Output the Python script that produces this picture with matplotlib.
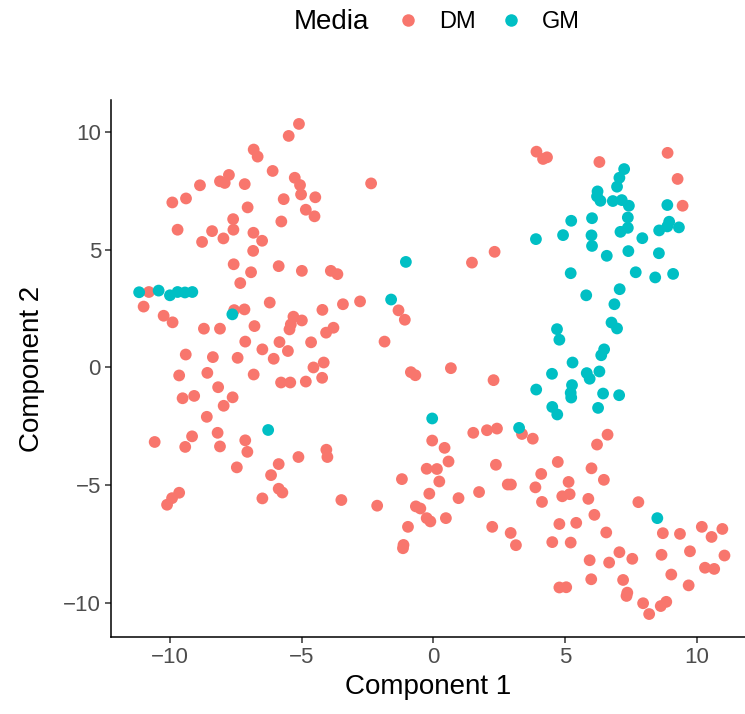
import matplotlib
matplotlib.use("Agg")
import matplotlib.pyplot as plt
from matplotlib.lines import Line2D

plt.rcParams['font.family'] = ['Liberation Sans', 'DejaVu Sans']

# Component 1 / Component 2 coordinates
dm_x = [-5.10, -5.49, -6.82, -6.67, -6.10, -7.76, -8.10, -7.92, -8.86, -7.16,
        -5.26, -5.06, -5.02, -4.48, -5.68, -9.39, -9.91, -7.05, -4.84, -4.51,
        -5.77, -7.60, -7.59, -9.71, -8.40, -8.78, -7.97, -6.83, -6.50, -6.84,
        -7.58, -5.87, -4.99, -6.92, -7.33, -3.89, -3.64, -6.21, -3.43, -2.78,
        -4.21, -10.80, -11.00, -7.56, -7.17,
        -10.24, -9.90, -5.31, -4.99, -5.41, -5.46, -6.79, -8.71, -8.10, -3.79,
        -4.07, -7.14, -5.84, -4.64, -5.52, -6.49, -6.06, -9.40, -8.37, -7.43,
        -4.16, -4.55, -9.65, -8.58, -6.82, -5.78, -5.43, -4.84, -4.22, -8.17,
        -9.52, -9.08, -7.62, -7.96, -8.60, -10.58, -9.16, -9.42, -8.19, -8.10,
        -7.14, -7.06, -5.12, -4.06, -4.02, -5.87, -6.16, -7.46, -5.87, -5.73,
        -6.49, -3.49, -9.65, -9.92, -10.11,
        -2.36, 3.92, 4.17, 4.32, 1.47, 2.33, -1.32, -1.08, -1.85, -0.85,
        -0.68, 0.67, 2.29, 1.52, 2.04, 2.42, 3.37, 3.78, -0.04,
        6.31, 8.90, 9.28, 9.47,
        0.43, 0.58, -0.25, 0.14, 0.23, -1.19, 2.38, 4.73, 4.10, 3.88,
        2.83, 2.95, 1.74, 0.96, -0.15, 4.13, -2.13, -0.66, -0.49, -0.25,
        -0.11, 0.48, -0.96, -1.13, -1.15, 2.24, 2.94, 3.14, 4.52, 4.79,
        4.90, 4.79,
        5.05, 5.18, 6.62, 6.22, 6.01, 6.48, 5.14, 5.89, 6.12, 7.79,
        5.43, 5.22, 6.57, 5.94, 6.68, 7.07, 7.56, 6.00, 7.21, 7.37,
        7.34, 7.97, 8.20, 8.64, 8.85, 8.72, 9.37, 10.20, 10.57, 10.98,
        8.67, 9.75, 11.06, 9.04, 9.70, 10.32, 10.67]
dm_y = [10.36, 9.85, 9.27, 8.97, 8.36, 8.19, 7.92, 7.85, 7.75, 7.80,
        8.07, 7.76, 7.36, 7.24, 7.16, 7.19, 7.02, 6.81, 6.71, 6.43,
        6.21, 6.31, 5.86, 5.86, 5.80, 5.34, 5.49, 5.73, 5.39, 4.96,
        4.39, 4.31, 4.11, 4.05, 3.59, 4.11, 3.97, 2.76, 2.69, 2.81,
        2.45, 3.21, 2.59, 2.44, 2.47,
        2.20, 1.92, 2.16, 2.00, 1.83, 1.62, 1.76, 1.65, 1.65, 1.69,
        1.48, 1.10, 1.08, 1.07, 0.70, 0.77, 0.37, 0.55, 0.44, 0.41,
        0.21, 0.00, -0.34, -0.23, -0.30, -0.64, -0.64, -0.60, -0.44, -0.84,
        -1.31, -1.21, -1.27, -1.63, -2.10, -3.17, -2.93, -3.38, -2.78, -3.36,
        -3.10, -3.59, -3.81, -3.50, -3.81, -4.11, -4.58, -4.25, -5.16, -5.32,
        -5.57, -5.64, -5.33, -5.56, -5.84,
        7.83, 9.18, 8.87, 8.94, 4.46, 4.92, 2.43, 2.03, 1.10, -0.20,
        -0.33, -0.03, -0.54, -2.78, -2.67, -2.60, -2.83, -3.03, -3.11,
        8.74, 9.13, 8.02, 6.88,
        -3.42, -4.00, -4.31, -4.32, -4.85, -4.75, -4.14, -4.02, -4.53, -5.10,
        -4.98, -4.98, -5.30, -5.56, -5.37, -5.72, -5.88, -5.91, -6.00, -6.41,
        -6.55, -6.41, -6.78, -7.55, -7.69, -6.78, -7.04, -7.56, -7.43, -6.66,
        -5.48, -9.36,
        -9.35, -5.39, -2.86, -3.28, -4.29, -4.78, -4.87, -5.59, -6.27, -5.73,
        -6.61, -7.45, -7.02, -8.20, -8.30, -7.86, -8.14, -9.01, -9.04, -9.58,
        -9.72, -10.03, -10.49, -10.15, -9.97, -7.05, -7.08, -6.78, -7.21, -6.87,
        -7.97, -7.82, -8.00, -8.81, -9.27, -8.52, -8.57]

gm_x = [-11.17, -10.43, -10.00, -9.71, -9.43, -9.15, -7.63, -6.27,
        -1.04, -1.60, -0.04, 3.26, 3.90, 3.91,
        7.25, 7.07, 6.98, 6.24, 6.22, 6.35, 6.82, 7.16, 7.43, 7.39,
        7.39, 7.11, 8.89, 8.96, 8.89, 8.58, 9.33, 7.94, 8.57, 7.41,
        6.59, 6.03, 5.24, 4.93, 6.01, 6.03, 5.22, 7.69, 8.43, 9.11,
        5.81, 7.08, 6.88, 6.77, 6.98, 4.70, 4.79, 6.49, 6.38, 5.29,
        4.51, 5.83, 5.94, 6.31, 5.27, 5.22, 5.24, 6.45, 7.06, 4.52,
        4.71, 6.26, 8.51]
gm_y = [3.20, 3.27, 3.07, 3.21, 3.19, 3.21, 2.26, -2.66,
        4.49, 2.89, -2.17, -2.57, 5.46, -0.94,
        8.44, 8.07, 7.69, 7.49, 7.28, 7.09, 7.08, 7.12, 6.88, 6.38,
        5.94, 5.77, 6.91, 6.20, 6.00, 5.83, 5.96, 5.50, 4.86, 4.95,
        4.75, 6.35, 6.24, 5.63, 5.62, 5.17, 4.01, 4.05, 3.83, 3.98,
        3.07, 3.33, 2.69, 1.91, 1.66, 1.63, 1.18, 0.77, 0.52, 0.21,
        -0.27, -0.24, -0.48, -0.17, -0.75, -1.08, -1.28, -1.11, -1.18, -1.68,
        -2.00, -1.72, -6.41]

groups = ["DM", "GM"]
colors = ["#F8766D", "#00BFC4"]

fig = plt.figure(figsize=(7.45, 7.14), dpi=100)
ax = fig.add_axes([0.1486, 0.1074, 0.8514, 0.7526])

ax.scatter(dm_x, dm_y, s=72, color=colors[0], edgecolors='none', zorder=2)
ax.scatter(gm_x, gm_y, s=72, color=colors[1], edgecolors='none', zorder=2)

ax.set_xlim(-12.25, 11.84)
ax.set_ylim(-11.48, 11.38)
ax.set_xticks([-10, -5, 0, 5, 10])
ax.set_yticks([-10, -5, 0, 5, 10])
ax.set_xticklabels(["\u221210", "\u22125", "0", "5", "10"])
ax.set_yticklabels(["\u221210", "\u22125", "0", "5", "10"])

# theme_classic look
for side in ["top", "right"]:
    ax.spines[side].set_visible(False)
for side in ["left", "bottom"]:
    ax.spines[side].set_linewidth(1.1)
    ax.spines[side].set_color("black")
ax.tick_params(axis='both', length=4, width=1.1, color="#333333",
               labelcolor="#4D4D4D", labelsize=16, pad=3)

ax.set_xlabel("Component 1", fontsize=20, labelpad=4)
ax.set_ylabel("Component 2", fontsize=20, labelpad=13)

# legend on top, title to the left of the keys
fig.text(294 / 745, 1 - 22 / 714, "Media", fontsize=20, ha='left', va='center')
handles = [Line2D([], [], marker='o', linestyle='none', markersize=9,
                  markerfacecolor=c, markeredgecolor='none') for c in colors]
fig.legend(handles, groups, loc='center left', ncol=2, frameon=False,
           bbox_to_anchor=(394 / 745, 1 - 22 / 714), fontsize=17,
           handletextpad=0.7, columnspacing=0.9, borderpad=0,
           borderaxespad=0, handlelength=1.2)

fig.savefig("out.png", dpi=100)
